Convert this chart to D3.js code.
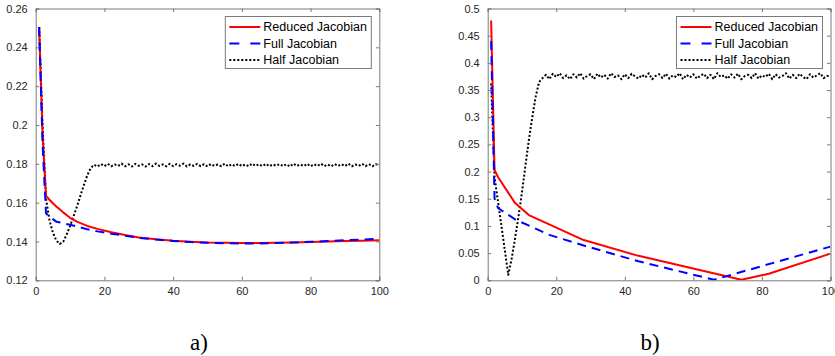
<!DOCTYPE html>
<html>
<head>
<meta charset="utf-8">
<script src="https://cdn.jsdelivr.net/npm/d3@7"></script>
<style>
  body { margin: 0; background: #fff; }
  svg { display: block; font-family: "Liberation Sans", Arial, sans-serif; }
</style>
</head>
<body>
<div id="chart"></div>
<script>
// ---- data: panel a) ----
var aRedX = [1, 2, 3, 4, 5, 6, 8, 10, 12, 15, 18, 22, 26, 30, 35, 40, 45, 50, 55, 60, 65, 70, 75, 80, 85, 90, 95, 100];
var aRedY = [0.2505, 0.195, 0.1635, 0.1615, 0.1597, 0.158, 0.155, 0.1522, 0.1502, 0.148, 0.1465, 0.1448, 0.1433, 0.1421, 0.1411, 0.1404, 0.1399, 0.1395, 0.1393, 0.1392, 0.1392, 0.1393, 0.1395, 0.1397, 0.1400, 0.1402, 0.1404, 0.1406];

var aBlueX = [1, 2, 3, 4, 6, 8, 10, 12, 15, 18, 22, 26, 30, 35, 40, 45, 50, 55, 60, 65, 70, 75, 80, 85, 90, 95, 100];
var aBlueY = [0.2505, 0.19, 0.1545, 0.1528, 0.1502, 0.1494, 0.1486, 0.1478, 0.1463, 0.1452, 0.1440, 0.1430, 0.1419, 0.1410, 0.1403, 0.1397, 0.1393, 0.1391, 0.1390, 0.1390, 0.1392, 0.1395, 0.1398, 0.1402, 0.1406, 0.1410, 0.1414];

// half jacobian, one value per iteration 1..100
var aHalfY = [
  0.2505, 0.20, 0.162, 0.151, 0.1445, 0.1405, 0.1387, 0.1398, 0.1435, 0.148,
  0.1528, 0.158, 0.1635, 0.169, 0.174, 0.1778,
  0.1795, 0.1786, 0.1799, 0.1788, 0.1800, 0.1787, 0.1797, 0.1789, 0.1801, 0.1787,
  0.1798, 0.1786, 0.1800, 0.1790, 0.1797, 0.1786, 0.1799, 0.1788, 0.1801, 0.1789,
  0.1797, 0.1787, 0.1800, 0.1788, 0.1798, 0.1790, 0.1801, 0.1786, 0.1797, 0.1789,
  0.1800, 0.1788, 0.1798, 0.1786, 0.1799, 0.1789, 0.1797, 0.1788, 0.1801, 0.1787,
  0.1798, 0.1789, 0.1800, 0.1788, 0.1797, 0.1787, 0.1801, 0.1789, 0.1798, 0.1788,
  0.1800, 0.1787, 0.1797, 0.1790, 0.1799, 0.1788, 0.1798, 0.1786, 0.1801, 0.1789,
  0.1797, 0.1788, 0.1800, 0.1787, 0.1798, 0.1789, 0.1801, 0.1788, 0.1797, 0.1787,
  0.1799, 0.1789, 0.1798, 0.1788, 0.1801, 0.1787, 0.1797, 0.1789, 0.1800, 0.1788,
  0.1798, 0.1787, 0.1799, 0.1789
];

// ---- data: panel b) ----
var bRedX = [1, 2, 3, 8, 12, 28, 44, 74, 82, 100];
var bRedY = [0.478, 0.203, 0.19, 0.142, 0.120, 0.074, 0.045, 0.001, 0.012, 0.049];

var bBlueX = [1, 2, 3, 8, 18, 28, 44, 66, 100];
var bBlueY = [0.44, 0.15, 0.133, 0.112, 0.0835, 0.064, 0.035, 0.001, 0.062];

var bHalfY = [
  0.362, 0.19, 0.145, 0.10, 0.055, 0.01, 0.04, 0.078, 0.118, 0.162,
  0.21, 0.258, 0.30, 0.338, 0.365,
  0.372, 0.378, 0.370, 0.380, 0.374, 0.381, 0.372, 0.377, 0.370, 0.379,
  0.373, 0.381, 0.371, 0.376, 0.379, 0.370, 0.380, 0.373, 0.378, 0.371,
  0.381, 0.374, 0.377, 0.370, 0.379, 0.372, 0.380, 0.375, 0.371, 0.378,
  0.373, 0.381, 0.370, 0.376, 0.379, 0.372, 0.380, 0.371, 0.377, 0.374,
  0.381, 0.370, 0.378, 0.373, 0.379, 0.371, 0.376, 0.380, 0.372, 0.378,
  0.370, 0.381, 0.374, 0.377, 0.371, 0.379, 0.373, 0.380, 0.370, 0.376,
  0.378, 0.372, 0.381, 0.371, 0.377, 0.374, 0.380, 0.370, 0.379, 0.373,
  0.376, 0.381, 0.371, 0.378, 0.372, 0.380, 0.374, 0.370, 0.379, 0.373,
  0.377, 0.381, 0.372, 0.376, 0.374
];

// ticks and legend
var xTicks = [0, 20, 40, 60, 80, 100];
var aYTicks = [0.12, 0.14, 0.16, 0.18, 0.2, 0.22, 0.24, 0.26];
var bYTicks = [0, 0.05, 0.1, 0.15, 0.2, 0.25, 0.3, 0.35, 0.4, 0.45, 0.5];
var legendNames = ["Reduced Jacobian", "Full Jacobian", "Half Jacobian"];
var panelLabels = ["a)", "b)"];

var iterations = d3.range(1, 101);

var svg = d3.select("#chart")
  .append("svg")
  .attr("width", 835)
  .attr("height", 356);

var axisColor = "#7a7a7a";
var textColor = "#262626";

var styles = [
  { color: "#ff0000", dash: null },
  { color: "#0000ff", dash: "9,6" },
  { color: "#000000", dash: "2,2" }
];

function drawPanel(opts) {
  var w = opts.right - opts.left;
  var h = opts.bottom - opts.top;

  var g = svg.append("g")
    .attr("transform", `translate(${opts.left}, ${opts.top})`);

  var x = d3.scaleLinear().domain([0, 100]).range([0, w]);
  var y = d3.scaleLinear().domain(opts.yDomain).range([h, 0]);

  var clipId = "clip" + opts.id;
  g.append("clipPath").attr("id", clipId)
    .append("rect").attr("width", w).attr("height", h);

  // series
  var line = d3.line()
    .x(d => x(d[0]))
    .y(d => y(d[1]));

  var series = [
    d3.zip(opts.redX, opts.redY),
    d3.zip(opts.blueX, opts.blueY),
    d3.zip(iterations, opts.halfY)
  ];

  // half first so red/blue sit on top like the original
  [2, 0, 1].forEach(function(i) {
    g.append("path")
      .datum(series[i])
      .attr("clip-path", `url(#${clipId})`)
      .attr("fill", "none")
      .attr("stroke", styles[i].color)
      .attr("stroke-width", 2)
      .attr("stroke-dasharray", styles[i].dash)
      .attr("stroke-linejoin", "round")
      .attr("d", line);
  });

  // axes, ticks pointing inward, box with mirrored ticks
  var xAxis = d3.axisBottom(x).tickValues(xTicks).tickSize(-3.5).tickPadding(7).tickFormat(d3.format("d"));
  var yAxis = d3.axisLeft(y).tickValues(opts.yTicks).tickSize(-3.5).tickPadding(8).tickFormat(d => String(d));
  var xTop = d3.axisTop(x).tickValues(xTicks).tickSize(-3.5).tickFormat("");
  var yRight = d3.axisRight(y).tickValues(opts.yTicks).tickSize(-3.5).tickFormat("");

  var axes = [
    g.append("g").attr("transform", `translate(0, ${h})`).call(xAxis),
    g.append("g").call(yAxis),
    g.append("g").call(xTop),
    g.append("g").attr("transform", `translate(${w}, 0)`).call(yRight)
  ];
  axes.forEach(function(a) {
    a.select(".domain").attr("stroke", axisColor);
    a.selectAll(".tick line").attr("stroke", axisColor);
    a.selectAll("text")
      .attr("fill", textColor)
      .style("font-size", "11px")
      .style("font-family", "Liberation Sans, Arial, sans-serif");
  });

  // legend
  var lw = 146, lh = 52;
  var legend = g.append("g")
    .attr("transform", `translate(${w - lw - 8}, 8)`);
  legend.append("rect")
    .attr("width", lw)
    .attr("height", lh)
    .attr("fill", "#fff")
    .attr("stroke", axisColor)
    .attr("stroke-width", 1);

  legendNames.forEach(function(name, i) {
    var ly = 10.5 + i * 16.5;
    legend.append("line")
      .attr("x1", 4).attr("x2", 35)
      .attr("y1", ly).attr("y2", ly)
      .attr("stroke", styles[i].color)
      .attr("stroke-width", 2)
      .attr("stroke-dasharray", i == 1 ? "10,11" : styles[i].dash);
    legend.append("text")
      .attr("x", 38)
      .attr("y", ly)
      .attr("dy", "0.35em")
      .attr("fill", "#000")
      .style("font-size", "12.5px")
      .text(name);
  });

  // panel label under the axes
  svg.append("text")
    .attr("x", opts.labelX)
    .attr("y", 350)
    .attr("text-anchor", "middle")
    .style("font-family", "Liberation Serif, DejaVu Serif, serif")
    .style("font-size", "23px")
    .attr("fill", "#000")
    .text(opts.label);
}

drawPanel({
  id: "a", left: 35.7, right: 379.3, top: 8.5, bottom: 280.3,
  yDomain: [0.12, 0.26], yTicks: aYTicks,
  redX: aRedX, redY: aRedY, blueX: aBlueX, blueY: aBlueY, halfY: aHalfY,
  label: panelLabels[0], labelX: 199
});

drawPanel({
  id: "b", left: 487.7, right: 830.5, top: 8.5, bottom: 280.3,
  yDomain: [0, 0.5], yTicks: bYTicks,
  redX: bRedX, redY: bRedY, blueX: bBlueX, blueY: bBlueY, halfY: bHalfY,
  label: panelLabels[1], labelX: 650
});
</script>
</body>
</html>
